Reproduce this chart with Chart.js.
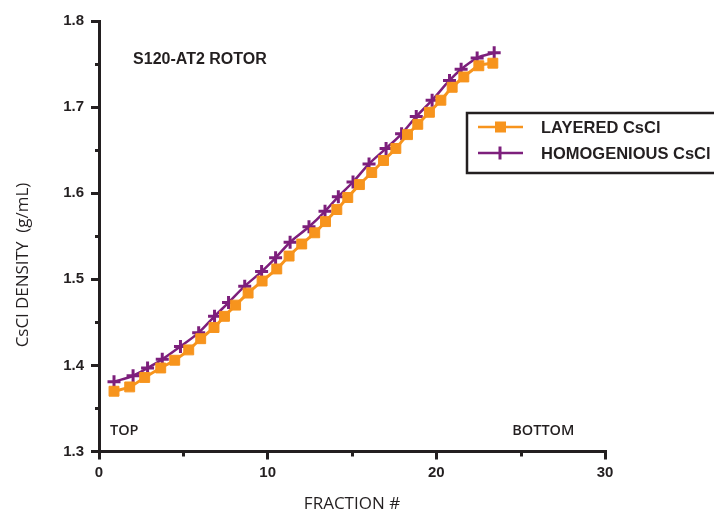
<!DOCTYPE html>
<html>
<head>
<meta charset="utf-8">
<script src="https://cdn.jsdelivr.net/npm/chart.js@4.4.0/dist/chart.umd.min.js"></script>
<style>
  html, body { margin: 0; padding: 0; background: #fff; }
</style>
</head>
<body>
<canvas id="density_chart" width="714" height="514"></canvas>
<script>
// CHART DATA
const layered_x = [0.89, 1.82, 2.71, 3.66, 4.49, 5.32, 6.03, 6.82, 7.44, 8.10, 8.84, 9.67, 10.54, 11.27, 12.02, 12.79,
  13.43, 14.10, 14.75, 15.44, 16.17, 16.87, 17.60, 18.29, 18.90, 19.59, 20.27, 20.94, 21.63, 22.52, 23.35];
const layered_y = [1.370, 1.375, 1.386, 1.397, 1.406, 1.418, 1.431, 1.444, 1.457, 1.470, 1.484, 1.498, 1.512, 1.527, 1.541, 1.554,
  1.567, 1.581, 1.595, 1.610, 1.624, 1.638, 1.652, 1.668, 1.680, 1.694, 1.708, 1.723, 1.735, 1.748, 1.751];

const homog_x = [0.89, 2.02, 2.88, 3.75, 4.83, 5.91, 6.85, 7.68, 8.64, 9.64, 10.47, 11.33, 12.45, 13.40, 14.19, 15.06,
  16.01, 17.02, 17.94, 18.81, 19.75, 20.78, 21.47, 22.42, 23.43];
const homog_y = [1.381, 1.388, 1.397, 1.407, 1.422, 1.438, 1.457, 1.473, 1.492, 1.509, 1.525, 1.543, 1.561, 1.579, 1.596, 1.613,
  1.634, 1.652, 1.669, 1.689, 1.708, 1.731, 1.744, 1.757, 1.763];

const series_names = ["LAYERED CsCl", "HOMOGENIOUS CsCl"];
const x_minor_ticks = [5, 15, 25];
const y_minor_ticks = [1.35, 1.45, 1.55, 1.65, 1.75];
const rotor_label = "S120-AT2 ROTOR";
const top_label = "TOP";
const bottom_label = "BOTTOM";
const x_title = "FRACTION #";
const y_title = "CsCl DENSITY  (g/mL)";

// COLORS
const AXIS = "#231f20";
const ORANGE = "#f7941d";
const PURPLE = "#7d1f7c";

const toPoints = (xs, ys) => xs.map((x, i) => ({ x: x, y: ys[i] }));

// extra drawing: minor ticks, labels, legend box
const extras = {
  id: "extras",
  afterDraw(chart) {
    const c = chart.ctx;
    const area = chart.chartArea;
    const xs = chart.scales.x;
    const ys = chart.scales.y;
    c.save();

    // minor ticks
    c.strokeStyle = AXIS;
    c.lineWidth = 3;
    x_minor_ticks.forEach((v) => {
      const px = Math.round(xs.getPixelForValue(v)) + 0.5;
      c.beginPath();
      c.moveTo(px, area.bottom);
      c.lineTo(px, area.bottom + 5);
      c.stroke();
    });
    y_minor_ticks.forEach((v) => {
      const py = Math.round(ys.getPixelForValue(v)) + 0.5;
      c.beginPath();
      c.moveTo(area.left - 4, py);
      c.lineTo(area.left, py);
      c.stroke();
    });

    // text labels
    c.fillStyle = AXIS;
    c.textBaseline = "middle";
    c.textAlign = "left";
    c.font = "bold 16px 'Liberation Sans', Arial, sans-serif";
    c.fillText(rotor_label, xs.getPixelForValue(2.02), ys.getPixelForValue(1.755));

    c.font = "600 14.5px 'Open Sans', sans-serif";
    c.fillText(top_label, xs.getPixelForValue(0.65), ys.getPixelForValue(1.3235));
    c.fillText(bottom_label, xs.getPixelForValue(24.5), ys.getPixelForValue(1.3235));

    // y title
    c.save();
    c.translate(23, 265);
    c.rotate(-Math.PI / 2);
    c.textAlign = "center";
    c.font = "500 17px 'Open Sans', sans-serif";
    c.fillText(y_title, 0, 0);
    c.restore();

    // legend box
    c.lineWidth = 2.5;
    c.strokeStyle = AXIS;
    c.strokeRect(467, 113, 300, 60);

    // legend rows
    const rows = [
      { y: 127, color: ORANGE, style: "rect", name: series_names[0] },
      { y: 153, color: PURPLE, style: "cross", name: series_names[1] },
    ];
    rows.forEach((r) => {
      c.strokeStyle = r.color;
      c.lineWidth = 2.5;
      c.beginPath();
      c.moveTo(478, r.y);
      c.lineTo(523, r.y);
      c.stroke();
      c.fillStyle = r.color;
      if (r.style === "rect") {
        c.fillRect(495, r.y - 5.5, 11, 11);
      } else {
        c.lineWidth = 3;
        c.beginPath();
        c.moveTo(500, r.y - 6.5);
        c.lineTo(500, r.y + 6.5);
        c.stroke();
      }
      c.fillStyle = AXIS;
      c.font = "bold 16.5px 'Liberation Sans', Arial, sans-serif";
      c.textAlign = "left";
      c.fillText(r.name, 541, r.y + 1.5);
    });

    c.restore();
  },
};

const ctx = document.getElementById("density_chart").getContext("2d");

const my_chart = new Chart(ctx, {
  type: "scatter",
  data: {
    datasets: [
      {
        label: series_names[0],
        data: toPoints(layered_x, layered_y),
        showLine: true,
        borderColor: ORANGE,
        backgroundColor: ORANGE,
        borderWidth: 3,
        pointStyle: "rect",
        pointRadius: 7,
        pointBorderWidth: 1,
        cubicInterpolationMode: "monotone",
      },
      {
        label: series_names[1],
        data: toPoints(homog_x, homog_y),
        showLine: true,
        borderColor: PURPLE,
        backgroundColor: PURPLE,
        borderWidth: 2.5,
        pointStyle: "cross",
        pointRadius: 6.5,
        pointBorderWidth: 3,
        cubicInterpolationMode: "monotone",
      },
    ],
  },
  options: {
    responsive: false,
    animation: false,
    devicePixelRatio: 1,
    layout: { padding: { top: 21, right: 109, bottom: 0, left: 0 } },
    plugins: {
      legend: { display: false },
      tooltip: { enabled: false },
    },
    scales: {
      x: {
        type: "linear",
        min: 0,
        max: 30,
        afterFit: (scale) => { scale.height = 62.5; },
        border: { display: true, width: 3, color: AXIS },
        grid: { drawOnChartArea: false, drawTicks: true, tickLength: 8, lineWidth: 3, color: AXIS },
        ticks: {
          stepSize: 10,
          padding: 4,
          color: AXIS,
          font: { family: "'Liberation Sans', Arial, sans-serif", size: 15, weight: "bold" },
        },
        title: {
          display: true,
          text: x_title,
          color: AXIS,
          padding: { top: 0, bottom: 0 },
          font: { family: "'Open Sans', sans-serif", size: 17, weight: 500 },
        },
      },
      y: {
        type: "linear",
        min: 1.3,
        max: 1.8,
        afterFit: (scale) => { scale.width = 99; },
        border: { display: true, width: 3, color: AXIS },
        grid: { drawOnChartArea: false, drawTicks: true, tickLength: 8, lineWidth: 3, color: AXIS },
        ticks: {
          stepSize: 0.1,
          padding: 7,
          color: AXIS,
          font: { family: "'Liberation Sans', Arial, sans-serif", size: 15, weight: "bold" },
          callback: (v) => v.toFixed(1),
        },
      },
    },
  },
  plugins: [extras],
});
</script>
</body>
</html>
